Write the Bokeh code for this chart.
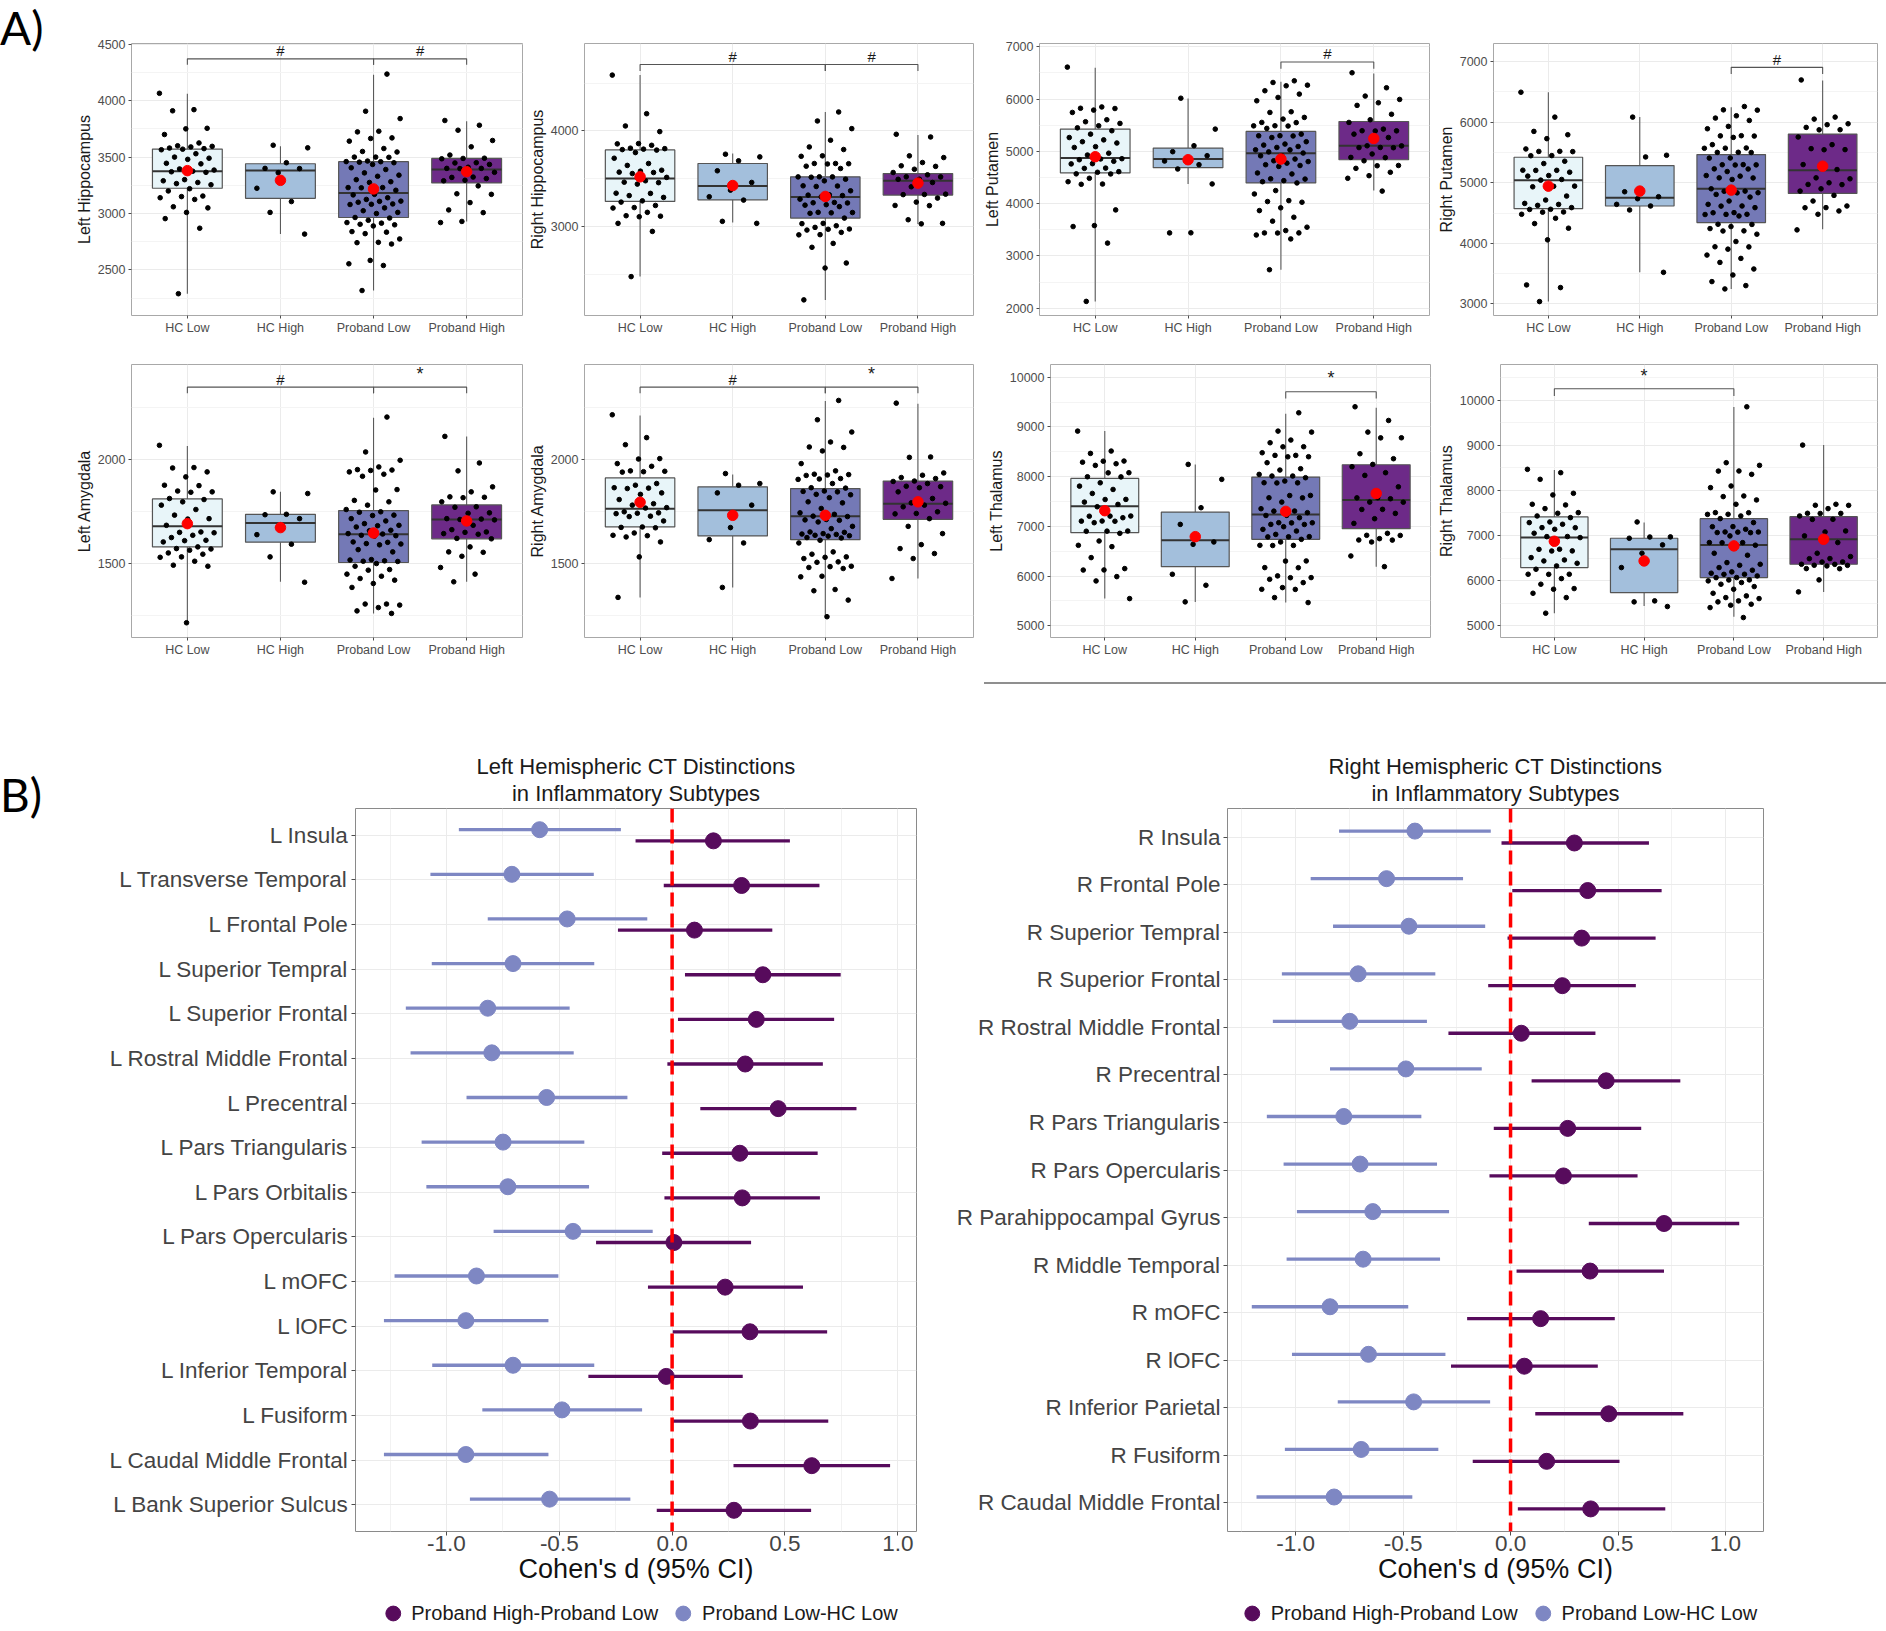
from bokeh.plotting import figure
from bokeh.layouts import row, column, Spacer
from bokeh.models import (Range1d, FixedTicker, Title, Legend, LegendItem, Span,
                          PrintfTickFormatter, Div)
from bokeh.core.properties import value
from bokeh.embed import file_html
from bokeh.resources import INLINE

FONT = "Liberation Sans"
NAN = float("nan")

# ---------------- Panel A data ----------------
groups = ["HC Low", "HC High", "Proband Low", "Proband High"]
group_fills = ["#E8F5F9", "#A3BFDC", "#7479B6", "#6D2A88"]

# box stats per group: [q1, median, q3, whisker_low, whisker_high, mean]
lhip_box = [[3224, 3374, 3571, 2290, 4062, 3380], [3135, 3382, 3441, 2818, 3597, 3294],
            [2965, 3182, 3459, 2318, 4229, 3218], [3271, 3391, 3488, 2930, 3818, 3371]]
lhip_pts = [
    [4065, 3920, 3910, 3755, 3750, 3700, 3625, 3600, 3595, 3590, 3580, 3575, 3570, 3565, 3530, 3500, 3490, 3480,
     3445, 3440, 3395, 3385, 3375, 3370, 3365, 3300, 3290, 3275, 3265, 3255, 3220, 3200, 3155, 3150, 3140, 3125,
     3060, 3050, 3010, 2955, 2870, 2290],
    [3605, 3582, 3450, 3400, 3398, 3362, 3224, 3106, 3010, 2818],
    [4235, 3906, 3841, 3729, 3723, 3670, 3665, 3641, 3576, 3550, 3545, 3500, 3500, 3498, 3465, 3460, 3459, 3455,
     3450, 3435, 3405, 3390, 3360, 3340, 3330, 3300, 3282, 3275, 3230, 3230, 3228, 3206, 3170, 3165, 3140, 3125,
     3110, 3108, 3100, 3085, 3082, 3080, 3050, 3025, 3010, 3000, 2965, 2960, 2940, 2920, 2915, 2905, 2900, 2890,
     2840, 2835, 2822, 2775, 2745, 2742, 2730, 2585, 2555, 2540, 2318],
    [3824, 3782, 3738, 3647, 3591, 3518, 3490, 3488, 3485, 3450, 3448, 3435, 3410, 3400, 3400, 3398, 3365, 3323,
     3320, 3310, 3295, 3290, 3245, 3175, 3170, 3097, 3032, 3008, 2930, 2920]]

rhip_box = [[3264, 3503, 3802, 2479, 4583, 3521], [3281, 3424, 3660, 3045, 3764, 3430],
            [3090, 3309, 3521, 2236, 4198, 3316], [3330, 3479, 3555, 3028, 3958, 3455]]
rhip_pts = [
    [4583, 4180, 4052, 3993, 3868, 3865, 3850, 3820, 3815, 3810, 3805, 3800, 3774, 3715, 3660, 3640, 3590, 3580,
     3570, 3566, 3555, 3515, 3480, 3465, 3460, 3445, 3350, 3348, 3325, 3306, 3270, 3257, 3222, 3200, 3195, 3150,
     3115, 3110, 3104, 3035, 2951, 2479],
    [3757, 3729, 3688, 3584, 3462, 3382, 3313, 3278, 3056, 3035],
    [4198, 4104, 4024, 3903, 3833, 3806, 3740, 3735, 3660, 3660, 3658, 3655, 3632, 3608, 3521, 3520, 3520, 3517,
     3496, 3479, 3427, 3425, 3420, 3375, 3333, 3330, 3325, 3312, 3288, 3253, 3250, 3248, 3230, 3225, 3210, 3150,
     3148, 3145, 3140, 3090, 3035, 3032, 3010, 2993, 2976, 2973, 2965, 2941, 2917, 2915, 2826, 2785, 2621, 2569,
     2236],
    [3965, 3937, 3740, 3722, 3670, 3636, 3630, 3600, 3566, 3542, 3521, 3520, 3496, 3495, 3462, 3417, 3340, 3337,
     3335, 3299, 3257, 3222, 3220, 3073, 3035, 3030]]

lput_box = [[4587, 4873, 5426, 2127, 6599, 4898], [4688, 4853, 5064, 4376, 6011, 4840],
            [4396, 4962, 5382, 2736, 6330, 4853], [4840, 5107, 5572, 4250, 6491, 5247]]
lput_pts = [
    [6612, 5850, 5825, 5820, 5790, 5745, 5605, 5567, 5535, 5490, 5450, 5395, 5330, 5265, 5220, 5185, 5160, 5090,
     5075, 4965, 4930, 4860, 4855, 4840, 4810, 4765, 4760, 4680, 4675, 4612, 4600, 4570, 4568, 4485, 4420, 4375,
     4370, 3880, 3580, 3562, 3245, 2130],
    [6017, 5426, 5108, 4994, 4917, 4820, 4815, 4745, 4663, 4377, 3442, 3440],
    [6350, 6318, 6267, 6255, 6160, 6096, 6032, 5968, 5758, 5745, 5650, 5618, 5554, 5550, 5490, 5488, 5485, 5440,
     5330, 5300, 5298, 5295, 5265, 5185, 5140, 5120, 5094, 5075, 5030, 5028, 4990, 4968, 4917, 4915, 4853, 4820,
     4805, 4775, 4745, 4730, 4712, 4587, 4568, 4475, 4470, 4440, 4420, 4396, 4250, 4185, 4058, 4040, 4027, 3920,
     3867, 3740, 3665, 3550, 3485, 3440, 3440, 3438, 3400, 3325, 2736],
    [6504, 6217, 6058, 5994, 5930, 5880, 5710, 5605, 5554, 5426, 5395, 5393, 5390, 5330, 5265, 5107, 5105, 5075,
     5073, 5070, 4950, 4885, 4880, 4820, 4730, 4725, 4675, 4600, 4535, 4485, 4240]]

rput_box = [[4573, 5044, 5422, 3038, 6496, 4945], [4617, 4754, 5285, 3521, 6085, 4863],
            [4343, 4901, 5466, 3247, 6249, 4879], [4825, 5208, 5805, 4233, 6688, 5274]]
rput_pts = [
    [6496, 6085, 5849, 5794, 5729, 5559, 5520, 5518, 5515, 5449, 5447, 5356, 5318, 5208, 5206, 5205, 5175, 5120,
     5110, 5055, 5044, 4945, 4942, 4934, 4781, 4715, 4660, 4643, 4627, 4590, 4562, 4560, 4518, 4515, 4480, 4414,
     4326, 4250, 4058, 3313, 3269, 3038],
    [6085, 5455, 5427, 4852, 4770, 4737, 4644, 4617, 4551, 3521],
    [6260, 6205, 6200, 6107, 6069, 6030, 5932, 5893, 5778, 5775, 5772, 5750, 5630, 5575, 5572, 5570, 5504, 5502,
     5500, 5410, 5408, 5300, 5298, 5296, 5294, 5230, 5228, 5186, 5120, 5110, 5082, 5080, 5055, 4901, 4863, 4860,
     4836, 4834, 4808, 4764, 4699, 4644, 4617, 4615, 4590, 4507, 4505, 4480, 4478, 4476, 4452, 4315, 4312, 4277,
     4244, 4206, 4204, 4151, 4030, 3943, 3941, 3904, 3806, 3751, 3685, 3576, 3477, 3368, 3302, 3247],
    [6699, 6085, 6052, 5975, 5960, 5915, 5877, 5875, 5756, 5630, 5564, 5548, 5546, 5301, 5219, 5082, 5066, 5000,
     4973, 4970, 4901, 4863, 4792, 4699, 4617, 4590, 4588, 4535, 4480, 4222]]

lamy_box = [[1580, 1679, 1811, 1215, 2066, 1692], [1603, 1695, 1737, 1412, 1845, 1673],
            [1505, 1641, 1755, 1260, 2202, 1647], [1619, 1712, 1782, 1412, 2112, 1705]]
lamy_pts = [
    [2069, 1962, 1960, 1941, 1917, 1877, 1875, 1849, 1845, 1843, 1813, 1808, 1797, 1781, 1760, 1733, 1716, 1714,
     1684, 1652, 1650, 1648, 1636, 1625, 1612, 1610, 1604, 1580, 1572, 1570, 1564, 1551, 1545, 1532, 1530, 1511,
     1492, 1487, 1215],
    [1845, 1837, 1737, 1735, 1716, 1676, 1639, 1593, 1532, 1410],
    [2205, 2037, 1997, 1965, 1952, 1950, 1948, 1941, 1930, 1920, 1856, 1854, 1804, 1797, 1781, 1760, 1749, 1747,
     1733, 1731, 1716, 1705, 1692, 1684, 1682, 1676, 1660, 1658, 1644, 1642, 1636, 1634, 1632, 1604, 1602, 1596,
     1594, 1590, 1567, 1556, 1519, 1517, 1513, 1511, 1510, 1500, 1487, 1471, 1468, 1449, 1439, 1428, 1420, 1404,
     1385, 1305, 1305, 1300, 1288, 1272, 1260],
    [2112, 1984, 1946, 1869, 1845, 1821, 1819, 1817, 1797, 1773, 1771, 1744, 1742, 1716, 1714, 1712, 1710, 1684,
     1663, 1652, 1650, 1644, 1641, 1621, 1619, 1580, 1556, 1554, 1535, 1481, 1449, 1412]]

ramy_box = [[1676, 1764, 1912, 1337, 2213, 1795], [1633, 1756, 1869, 1385, 1929, 1732],
            [1615, 1728, 1861, 1244, 2282, 1732], [1713, 1788, 1897, 1428, 2269, 1797]]
ramy_pts = [
    [2216, 2106, 2072, 2005, 2003, 1981, 1968, 1946, 1944, 1942, 1940, 1885, 1877, 1865, 1863, 1861, 1840, 1833,
     1808, 1788, 1781, 1769, 1767, 1749, 1744, 1742, 1740, 1728, 1726, 1705, 1676, 1674, 1672, 1647, 1636, 1634,
     1628, 1604, 1532, 1337],
    [1933, 1885, 1877, 1840, 1781, 1673, 1615, 1599, 1385],
    [2285, 2192, 2133, 2085, 2061, 2059, 2042, 1981, 1946, 1930, 1928, 1926, 1924, 1909, 1907, 1905, 1885, 1865,
     1863, 1849, 1847, 1845, 1833, 1831, 1817, 1797, 1792, 1765, 1744, 1737, 1728, 1726, 1712, 1710, 1708, 1700,
     1679, 1668, 1652, 1650, 1644, 1642, 1640, 1636, 1634, 1632, 1625, 1623, 1612, 1599, 1556, 1545, 1532, 1530,
     1524, 1508, 1506, 1487, 1485, 1481, 1476, 1439, 1436, 1375, 1369, 1324, 1244],
    [2272, 2013, 2011, 1936, 1925, 1914, 1909, 1897, 1895, 1885, 1872, 1870, 1865, 1845, 1813, 1792, 1790, 1781,
     1773, 1749, 1741, 1739, 1716, 1679, 1644, 1591, 1572, 1548, 1524, 1428]]

lthal_box = [[6873, 7402, 7964, 5548, 8915, 7315], [6190, 6719, 7288, 5482, 8246, 6793],
             [6739, 7241, 7991, 5468, 9263, 7301], [6953, 7529, 8239, 6190, 9384, 7662]]
lthal_pts = [
    [8915, 8514, 8467, 8313, 8310, 8290, 8259, 8226, 8079, 8076, 7997, 7994, 7876, 7809, 7742, 7662, 7542, 7540,
     7488, 7442, 7395, 7208, 7206, 7204, 7174, 7107, 7105, 7103, 7074, 6906, 6904, 6902, 6860, 6706, 6619, 6592,
     6372, 6151, 6124, 6122, 5990, 5903, 5548],
    [8246, 7945, 7375, 7040, 6686, 6639, 6037, 5816, 5482],
    [9283, 8915, 8895, 8735, 8681, 8601, 8599, 8480, 8427, 8427, 8400, 8398, 8280, 8159, 8132, 8045, 8012, 8012,
     7978, 7911, 7877, 7875, 7873, 7622, 7620, 7575, 7573, 7488, 7355, 7308, 7306, 7275, 7221, 7219, 7174, 7074,
     7072, 7070, 7040, 7038, 6993, 6940, 6906, 6839, 6793, 6790, 6788, 6739, 6686, 6619, 6617, 6615, 6305, 6302,
     6171, 6169, 6004, 5970, 5968, 5936, 5869, 5769, 5735, 5733, 5568, 5468],
    [9404, 9129, 8895, 8781, 8779, 8460, 8360, 8246, 8199, 8079, 8025, 7795, 7575, 7573, 7555, 7488, 7486, 7342,
     7340, 7261, 7154, 7060, 6860, 6820, 6818, 6753, 6726, 6724, 6686, 6405, 6190]]

rthal_box = [[6291, 6955, 7413, 5280, 8453, 6874], [5737, 6697, 6940, 5442, 7287, 6438],
             [6070, 6793, 7375, 5199, 9845, 6771], [6364, 6918, 7419, 5752, 9004, 6918]]
rthal_pts = [
    [8467, 8393, 8246, 7936, 7900, 7693, 7678, 7597, 7508, 7493, 7434, 7397, 7301, 7287, 7250, 7176, 7174, 7139,
     7051, 6978, 6976, 6955, 6697, 6695, 6660, 6658, 6512, 6460, 6438, 6386, 6327, 6254, 6143, 6141, 6143, 6047,
     5922, 5826, 5811, 5722, 5626, 5280],
    [7301, 6970, 6968, 6940, 6793, 6608, 6291, 5553, 5531, 5428],
    [9852, 8614, 8555, 8430, 8428, 8356, 8098, 8061, 7877, 7863, 7789, 7693, 7508, 7506, 7471, 7469, 7434, 7375,
     7287, 7198, 7196, 7139, 7080, 7078, 7076, 7066, 7064, 6992, 6845, 6843, 6841, 6786, 6756, 6608, 6564, 6401,
     6364, 6342, 6291, 6232, 6195, 6166, 6143, 6141, 6106, 6070, 6068, 6018, 6016, 5996, 5959, 5922, 5870, 5811,
     5722, 5663, 5626, 5604, 5553, 5531, 5479, 5457, 5405, 5184],
    [9004, 7693, 7671, 7669, 7597, 7493, 7491, 7489, 7434, 7360, 7358, 7102, 7080, 6992, 6845, 6608, 6534, 6490,
     6488, 6416, 6414, 6364, 6362, 6342, 6340, 6327, 6268, 6266, 6018, 5752]]

# significance brackets: (group a, group b, label)
lhip_sig = [(0, 2, "#"), (2, 3, "#")]
rhip_sig = [(0, 2, "#"), (2, 3, "#")]
lput_sig = [(2, 3, "#")]
rput_sig = [(2, 3, "#")]
lamy_sig = [(0, 2, "#"), (2, 3, "*")]
ramy_sig = [(0, 2, "#"), (2, 3, "*")]
lthal_sig = [(2, 3, "*")]
rthal_sig = [(0, 2, "*")]

# ---------------- Panel B data ----------------
left_regions = ["L Insula", "L Transverse Temporal", "L Frontal Pole", "L Superior Tempral", "L Superior Frontal",
                "L Rostral Middle Frontal", "L Precentral", "L Pars Triangularis", "L Pars Orbitalis",
                "L Pars Opercularis", "L mOFC", "L lOFC", "L Inferior Temporal", "L Fusiform",
                "L Caudal Middle Frontal", "L Bank Superior Sulcus"]
left_d_low_hc = [-0.587, -0.710, -0.465, -0.705, -0.817, -0.799, -0.556, -0.749, -0.728, -0.439, -0.867, -0.914,
                 -0.705, -0.488, -0.914, -0.543]
left_lo_low_hc = [-0.945, -1.071, -0.817, -1.065, -1.180, -1.159, -0.911, -1.110, -1.089, -0.791, -1.230, -1.277,
                  -1.063, -0.841, -1.277, -0.896]
left_hi_low_hc = [-0.227, -0.347, -0.110, -0.345, -0.454, -0.436, -0.198, -0.389, -0.368, -0.086, -0.504, -0.548,
                  -0.345, -0.133, -0.548, -0.185]
left_d_high_low = [0.183, 0.308, 0.099, 0.402, 0.373, 0.324, 0.470, 0.300, 0.311, 0.008, 0.235, 0.345, -0.026,
                   0.347, 0.619, 0.274]
left_lo_high_low = [-0.162, -0.037, -0.240, 0.057, 0.026, -0.021, 0.125, -0.044, -0.034, -0.337, -0.107, 0.003,
                    -0.371, 0.003, 0.272, -0.068]
left_hi_high_low = [0.522, 0.653, 0.444, 0.747, 0.718, 0.668, 0.817, 0.645, 0.655, 0.350, 0.580, 0.687, 0.313,
                    0.692, 0.966, 0.616]

right_regions = ["R Insula", "R Frontal Pole", "R Superior Tempral", "R Superior Frontal",
                 "R Rostral Middle Frontal", "R Precentral", "R Pars Triangularis", "R Pars Opercularis",
                 "R Parahippocampal Gyrus", "R Middle Temporal", "R mOFC", "R lOFC", "R Inferior Parietal",
                 "R Fusiform", "R Caudal Middle Frontal"]
right_d_low_hc = [-0.445, -0.577, -0.473, -0.709, -0.748, -0.487, -0.776, -0.700, -0.641, -0.686, -0.840, -0.661,
                  -0.451, -0.695, -0.821]
right_lo_low_hc = [-0.798, -0.930, -0.826, -1.064, -1.106, -0.840, -1.134, -1.056, -0.994, -1.042, -1.204, -1.017,
                   -0.804, -1.050, -1.182]
right_hi_low_hc = [-0.092, -0.221, -0.118, -0.350, -0.389, -0.134, -0.415, -0.342, -0.286, -0.328, -0.476, -0.303,
                   -0.095, -0.336, -0.457]
right_d_high_low = [0.297, 0.359, 0.331, 0.241, 0.050, 0.445, 0.266, 0.246, 0.714, 0.370, 0.140, 0.064, 0.457,
                    0.168, 0.373]
right_lo_high_low = [-0.042, 0.008, -0.014, -0.104, -0.289, 0.098, -0.078, -0.098, 0.364, 0.028, -0.202, -0.277,
                     0.115, -0.176, 0.034]
right_hi_high_low = [0.644, 0.703, 0.675, 0.583, 0.395, 0.790, 0.608, 0.591, 1.064, 0.714, 0.485, 0.406, 0.804,
                     0.507, 0.720]

series_names = ["Proband High-Proband Low", "Proband Low-HC Low"]
dark_col = "#570B5C"
light_col = "#7E87C3"


# ---------------- helpers ----------------
def box_panel(ylabel, pts, box, sig, yr, yticks, yminor, sig_y, sig_tick, txt_y,
              width, height, bl, br, bt, bb):
    p = figure(width=width, height=height, x_range=Range1d(0.4, 4.6), y_range=Range1d(*yr),
               output_backend="svg", toolbar_location=None,
               min_border_left=bl, min_border_right=br, min_border_top=bt, min_border_bottom=bb)
    p.outline_line_color = "#a8a8a8"
    p.outline_line_width = 1
    xs = [1, 2, 3, 4]
    p.xgrid.ticker = FixedTicker(ticks=xs)
    p.xgrid.grid_line_color = "#ebebeb"
    yt = FixedTicker(ticks=yticks, minor_ticks=yminor)
    p.yaxis.ticker = yt
    p.ygrid.ticker = yt
    p.ygrid.grid_line_color = "#ebebeb"
    p.ygrid.minor_grid_line_color = "#f4f4f4"
    p.xaxis.ticker = FixedTicker(ticks=xs)
    p.xaxis.major_label_overrides = {x: g for x, g in zip(xs, groups)}
    for ax in (p.xaxis, p.yaxis):
        ax.axis_line_color = None
        ax.major_tick_line_color = "#4d4d4d"
        ax.major_tick_out = 3
        ax.major_tick_in = 0
        ax.minor_tick_line_color = None
        ax.major_label_text_font = FONT
        ax.major_label_text_font_size = "12.5px"
        ax.major_label_text_color = "#4d4d4d"
    p.xaxis.major_label_standoff = 2
    p.yaxis.major_label_standoff = 2
    p.yaxis.axis_label = ylabel
    p.yaxis.axis_label_text_font = FONT
    p.yaxis.axis_label_text_font_size = "16px"
    p.yaxis.axis_label_text_font_style = "normal"
    p.yaxis.axis_label_text_color = "#1a1a1a"
    p.yaxis.axis_label_standoff = 2

    q1 = [b[0] for b in box]
    med = [b[1] for b in box]
    q3 = [b[2] for b in box]
    lo = [b[3] for b in box]
    hi = [b[4] for b in box]
    mean = [b[5] for b in box]
    hw = 0.375
    p.segment(x0=xs, x1=xs, y0=lo, y1=q1, line_color="#5a5a5a", line_width=1.1)
    p.segment(x0=xs, x1=xs, y0=q3, y1=hi, line_color="#5a5a5a", line_width=1.1)
    p.quad(left=[x - hw for x in xs], right=[x + hw for x in xs], bottom=q1, top=q3,
           fill_color=group_fills, line_color="#555555", line_width=1.2)
    p.segment(x0=[x - hw for x in xs], x1=[x + hw for x in xs], y0=med, y1=med,
              line_color="#333333", line_width=2)
    jx, jy = [], []
    for gi, vals in enumerate(pts):
        for i, v in enumerate(vals):
            off = ((i * 0.6180339887 + gi * 0.37) % 1.0 - 0.5) * 0.6
            jx.append(xs[gi] + off)
            jy.append(v)
    p.scatter(jx, jy, size=4.6, color="black")
    p.scatter(xs, mean, size=10.5, color="#ff0000")
    for (a, b, lab), ty in zip(sig, txt_y):
        xa, xb = xs[a], xs[b]
        p.line([xa, xa, xb, xb], [sig_y - sig_tick, sig_y, sig_y, sig_y - sig_tick],
               line_color="#555555", line_width=1.1)
        p.text([(xa + xb) / 2], [ty], text=[lab], text_align="center", text_baseline="middle",
               text_font=value(FONT), text_font_size="15px" if lab == "#" else "18px",
               text_color="#1a1a1a")
    return p


def forest(t1, t2, regions, d_lo_hc, lo_lo_hc, hi_lo_hc, d_hi_lo, lo_hi_lo, hi_hi_lo, xr,
           width, height, bl, br, bt, bb):
    n = len(regions)
    p = figure(width=width, height=height, x_range=Range1d(*xr), y_range=Range1d(n + 0.6, 0.4),
               output_backend="svg", toolbar_location=None,
               min_border_left=bl, min_border_right=br, min_border_top=bt, min_border_bottom=bb)
    p.add_layout(Title(text=t2, align="center", text_font=FONT, text_font_size="22px",
                       text_font_style="normal", text_color="#1a1a1a", standoff=6), "above")
    p.add_layout(Title(text=t1, align="center", text_font=FONT, text_font_size="22px",
                       text_font_style="normal", text_color="#1a1a1a", standoff=-6), "above")
    p.outline_line_color = "#8a8a8a"
    p.outline_line_width = 1
    ys = list(range(1, n + 1))
    xt = FixedTicker(ticks=[-1.0, -0.5, 0.0, 0.5, 1.0], minor_ticks=[-1.25, -0.75, -0.25, 0.25, 0.75])
    p.xaxis.ticker = xt
    p.xgrid.ticker = xt
    p.xaxis.formatter = PrintfTickFormatter(format="%.1f")
    p.xgrid.grid_line_color = "#ebebeb"
    p.xgrid.minor_grid_line_color = "#f2f2f2"
    yt = FixedTicker(ticks=ys)
    p.yaxis.ticker = yt
    p.ygrid.ticker = yt
    p.ygrid.grid_line_color = "#ebebeb"
    p.yaxis.major_label_overrides = {y: r for y, r in zip(ys, regions)}
    for ax in (p.xaxis, p.yaxis):
        ax.axis_line_color = None
        ax.major_tick_line_color = "#4d4d4d"
        ax.major_tick_out = 4
        ax.major_tick_in = 0
        ax.minor_tick_line_color = None
        ax.major_label_text_font = FONT
        ax.major_label_text_font_size = "22.5px"
        ax.major_label_text_color = "#444444"
    p.yaxis.major_label_standoff = 3
    p.xaxis.major_label_standoff = 0
    p.xaxis.axis_label = "Cohen's d (95% CI)"
    p.xaxis.axis_label_text_font = FONT
    p.xaxis.axis_label_text_font_size = "27px"
    p.xaxis.axis_label_text_font_style = "normal"
    p.xaxis.axis_label_text_color = "#111111"
    p.xaxis.axis_label_standoff = 0

    dodge = 0.125
    y_light = [y - dodge for y in ys]
    y_dark = [y + dodge for y in ys]
    p.segment(x0=lo_lo_hc, x1=hi_lo_hc, y0=y_light, y1=y_light, line_color=light_col, line_width=3.3)
    p.segment(x0=lo_hi_lo, x1=hi_hi_lo, y0=y_dark, y1=y_dark, line_color=dark_col, line_width=3.3)
    p.scatter(d_lo_hc, y_light, size=16, color=light_col)
    p.scatter(d_hi_lo, y_dark, size=16, color=dark_col)
    p.add_layout(Span(location=0, dimension="height", line_color="#ff0000", line_width=3.5,
                      line_dash="14 7"))
    return p


def legend_strip(width, height, bl, br):
    p = figure(width=width, height=height, x_range=Range1d(0, 1), y_range=Range1d(0, 1),
               output_backend="svg", toolbar_location=None,
               x_axis_location=None, y_axis_location=None,
               min_border_left=bl, min_border_right=br, min_border_top=0, min_border_bottom=0)
    p.outline_line_color = None
    p.xgrid.visible = False
    p.ygrid.visible = False
    # legend-key proxies (NaN positions: never drawn inside the plot area)
    r_dark = p.scatter(x=[NAN], y=[NAN], size=16, color=dark_col)
    r_light = p.scatter(x=[NAN], y=[NAN], size=16, color=light_col)
    legend = Legend(items=[LegendItem(label=series_names[0], renderers=[r_dark]),
                           LegendItem(label=series_names[1], renderers=[r_light])],
                    orientation="horizontal", location="center",
                    label_text_font=FONT, label_text_font_size="20px", label_text_color="#1a1a1a",
                    glyph_width=38, glyph_height=37, label_standoff=-4, spacing=6, padding=0,
                    margin=0, border_line_color=None, background_fill_alpha=0)
    p.add_layout(legend, "center")
    return p


# ---------------- build ----------------
R1H, R1T, R1B = 340, 43, 25
R2H, R2T, R2B = 322, 24, 25

p1 = box_panel("Left Hippocampus", lhip_pts, lhip_box, lhip_sig, (2097, 4506),
               [2500, 3000, 3500, 4000, 4500], [2250, 2750, 3250, 3750, 4250],
               4370, 52, [4445, 4445], 457, R1H, 63, 3, R1T, R1B)
p2 = box_panel("Right Hippocampus", rhip_pts, rhip_box, rhip_sig, (2073, 4913),
               [3000, 4000], [2500, 3500, 4500],
               4694, 69, [4780, 4780], 455, R1H, 56, 7, R1T, R1B)
p3 = box_panel("Left Putamen", lput_pts, lput_box, lput_sig, (1860, 7064),
               [2000, 3000, 4000, 5000, 6000, 7000], [2500, 3500, 4500, 5500, 6500],
               6711, 128, [6865], 454, R1H, 58, 5, R1T, R1B)
p4 = box_panel("Right Putamen", rput_pts, rput_box, rput_sig, (2808, 7301),
               [3000, 4000, 5000, 6000, 7000], [3500, 4500, 5500, 6500],
               6907, 110, [7035], 447, R1H, 55, 4, R1T, R1B)
p5 = box_panel("Left Amygdala", lamy_pts, lamy_box, lamy_sig, (1144, 2458),
               [1500, 2000], [1250, 1750, 2250],
               2349, 29, [2388, 2410], 457, R2H, 63, 3, R2T, R2B)
p6 = box_panel("Right Amygdala", ramy_pts, ramy_box, ramy_sig, (1144, 2458),
               [1500, 2000], [1250, 1750, 2250],
               2349, 29, [2388, 2410], 459, R2H, 56, 11, R2T, R2B)
p7 = box_panel("Left Thalamus", lthal_pts, lthal_box, lthal_sig, (4766, 10254),
               [5000, 6000, 7000, 8000, 9000, 10000], [5500, 6500, 7500, 8500, 9500],
               9706, 134, [9975], 450, R2H, 61, 4, R2T, R2B)
p8 = box_panel("Right Thalamus", rthal_pts, rthal_box, rthal_sig, (4742, 10789),
               [5000, 6000, 7000, 8000, 9000, 10000], [5500, 6500, 7500, 8500, 9500, 10500],
               10251, 162, [10535], 447, R2H, 62, 4, R2T, R2B)

FH, FT, FB = 910, 124, 63
fl = forest("Left Hemispheric CT Distinctions", "in Inflammatory Subtypes", left_regions,
            left_d_low_hc, left_lo_low_hc, left_hi_low_hc,
            left_d_high_low, left_lo_high_low, left_hi_high_low, (-1.403, 1.083),
            872, FH, 287, 24, FT, FB)
fr = forest("Right Hemispheric CT Distinctions", "in Inflammatory Subtypes", right_regions,
            right_d_low_hc, right_lo_low_hc, right_hi_low_hc,
            right_d_high_low, right_lo_high_low, right_hi_high_low, (-1.317, 1.177),
            938, FH, 287, 115, FT, FB)
lg_l = legend_strip(872, 37, 287, 24)
lg_r = legend_strip(938, 37, 287, 115)

div_a = Div(text='<div style="font-family: Lato, sans-serif; font-size: 46px; line-height: 1.2; color:#000;">A)</div>',
            width=68, height=R1H, margin=0)
div_b = Div(text='<div style="font-family: Lato, sans-serif; font-size: 46px; line-height: 1.2; padding-top: 83px; color:#000;">B)</div>',
            width=68, height=FH, margin=0)
rule = Div(text="", width=902, height=2, margin=0, styles={"background-color": "#8f8f8f"})

layout = column(
    row(div_a, p1, p2, p3, p4),
    row(Spacer(width=68, height=R2H), p5, p6, p7, p8),
    Spacer(width=10, height=20),
    row(Spacer(width=984, height=2), rule),
    row(div_b, fl, fr),
    row(Spacer(width=68, height=37), lg_l, lg_r),
)

open("out.html", "w").write(file_html(layout, INLINE))
